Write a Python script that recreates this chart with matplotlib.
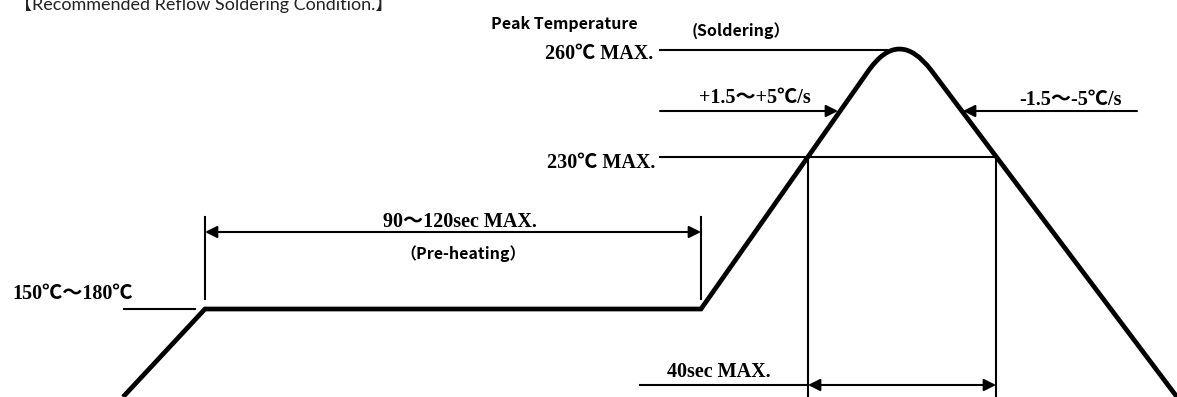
import matplotlib
matplotlib.use('Agg')
import matplotlib.pyplot as plt
from matplotlib.path import Path
from matplotlib.patches import PathPatch

# Reflow profile drawn in diagram units (x: time axis, y: height, 0 at top)
ramp_x = [123, 205, 701, 869]          # preheat ramp, plateau, rise to peak
ramp_y = [397, 309, 309, 70]
peak_ctrl = (899, 28)                  # control point that rounds the peak
fall_x = [931, 1177]                   # cooling side
fall_y = [70, 397]

lvl_260, lvl_230, lvl_150 = 50, 157, 309
preheat_start, preheat_end = 205, 701
t230_in, t230_out = 808, 996

SERIF = ['Liberation Serif', 'Noto Sans CJK SC']
SANS = ['Noto Sans CJK SC', 'DejaVu Sans']

fig = plt.figure(figsize=(11.77, 3.97), dpi=100)
ax = fig.add_axes([0, 0, 1, 1])
ax.set_xlim(0, 1177)
ax.set_ylim(397, 0)
ax.axis('off')

# profile curve
verts = list(zip(ramp_x, ramp_y)) + [peak_ctrl, (fall_x[0], fall_y[0]), (fall_x[1], fall_y[1])]
codes = [Path.MOVETO] + [Path.LINETO] * (len(ramp_x) - 1) + [Path.CURVE3, Path.CURVE3, Path.LINETO]
ax.add_patch(PathPatch(Path(verts, codes), fill=False, lw=3.4, color='black',
                       capstyle='butt', joinstyle='miter'))

thin = dict(color='black', lw=1.5)
# level lines
ax.plot([660, 887], [lvl_260, lvl_260], **thin)
ax.plot([660, t230_out], [lvl_230, lvl_230], **thin)
ax.plot([124, 195], [lvl_150, lvl_150], **thin)
ax.plot([640, t230_in], [385, 385], **thin)
# extension lines
for x in (preheat_start, preheat_end):
    ax.plot([x, x], [217, 299], **thin)
for x in (t230_in, t230_out):
    ax.plot([x, x], [lvl_230, 397], **thin)

arr = dict(color='black', lw=1.5, shrinkA=0, shrinkB=0, mutation_scale=18)
ax.annotate('', xy=(preheat_end, 232), xytext=(preheat_start, 232),
            arrowprops=dict(arrowstyle='<|-|>', **arr))
ax.annotate('', xy=(t230_out, 385), xytext=(t230_in, 385),
            arrowprops=dict(arrowstyle='<|-|>', **arr))
ax.annotate('', xy=(838, 111), xytext=(660, 111),
            arrowprops=dict(arrowstyle='-|>', **arr))
ax.annotate('', xy=(963, 111), xytext=(1137, 111),
            arrowprops=dict(arrowstyle='-|>', **arr))

# labels
bold_serif = dict(family=SERIF, fontweight='bold', fontsize=14.5, va='center')
ax.text(653, 54, '260℃ MAX.', ha='right', **bold_serif)
ax.text(655, 163, '230℃ MAX.', ha='right', **bold_serif)
ax.text(12, 294, '150℃～180℃', ha='left', **bold_serif)
ax.text(755, 98, '+1.5～+5℃/s', ha='center', **bold_serif)
ax.text(1070, 100, '-1.5～-5℃/s', ha='center', **bold_serif)
ax.text(460, 222, '90～120sec MAX.', ha='center', **bold_serif)
ax.text(719, 372, '40sec MAX.', ha='center', **bold_serif)

bold_sans = dict(family=SANS, fontweight='bold', fontsize=11.5, va='center')
ax.text(564, 24, 'Peak Temperature', ha='center', **bold_sans)
ax.text(741, 31, '(Soldering）', ha='center', **bold_sans)
ax.text(463, 254, '（Pre-heating）', ha='center', **bold_sans)

ax.text(14, 10, '【Recommended Reflow Soldering Condition.】', ha='left', va='baseline',
        family=['Lato', 'Noto Sans CJK SC'], fontsize=13, color='#222222')

fig.savefig('out.png', dpi=100)
